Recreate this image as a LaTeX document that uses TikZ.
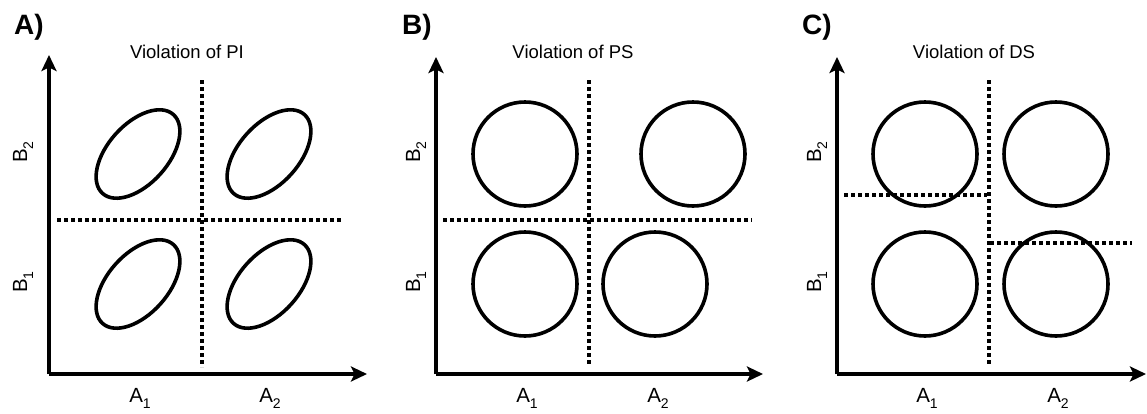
\documentclass[tikz,border=0pt]{standalone}
\usepackage{fontspec}
\setmainfont{Liberation Sans}
\usepackage{tikz}
\usetikzlibrary{arrows.meta,positioning,calc}
\newcommand{\lowsub}[2]{#1\raisebox{-6pt}{\fontsize{14}{14}\selectfont #2}}

\begin{document}
\begin{tikzpicture}[x=1pt,y=-1pt,
  axis/.style={line width=4pt,-{Stealth[length=16pt,width=15pt,inset=3.5pt]}},
  cutline/.style={line width=4pt,dash pattern=on 4pt off 3pt},
  blob/.style={line width=3.6pt},
  paneltag/.style={font=\fontsize{28}{30}\selectfont\bfseries},
  paneltitle/.style={font=\fontsize{18.5}{22}\selectfont},
  lvl/.style={font=\fontsize{20.5}{24}\selectfont,inner sep=0pt}]
\useasboundingbox (0,0) rectangle (1147,413);

% ---- A) violation of PI
\node[paneltag] (tagA) at (29,27) {A)};
\node[paneltitle] (titA) at (187,52) {Violation of PI};
\coordinate (oA) at (49,374);
\coordinate (xA) at (367,374);
\coordinate (yA) at (49,55);
\draw[axis] (oA) -- (xA);
\draw[axis] (oA) -- (yA);
\coordinate (vA1) at (202,80);   \coordinate (vA2) at (202,367);
\coordinate (hA1) at (57,220);   \coordinate (hA2) at (343,220);
\draw[cutline] (vA1) -- (vA2);
\draw[cutline] (hA1) -- (hA2);
\foreach \cx in {138,269}
  \foreach \cy in {154,284}
    \draw[blob,rotate around={48:(\cx,\cy)}] (\cx,\cy) ellipse [x radius=53,y radius=30];
\node[lvl] (a1A) at (140,398) {\lowsub{A}{1}};
\node[lvl] (a2A) at (270,398) {\lowsub{A}{2}};
\node[lvl,rotate=90] (b2A) at (23,152) {\lowsub{B}{2}};
\node[lvl,rotate=90] (b1A) at (23,282) {\lowsub{B}{1}};

% ---- B) violation of PS
\node[paneltag] (tagB) at (417,27) {B)};
\node[paneltitle] (titB) at (573,52) {Violation of PS};
\coordinate (oB) at (436,374);
\coordinate (xB) at (763,374);
\coordinate (yB) at (436,57);
\draw[axis] (oB) -- (xB);
\draw[axis] (oB) -- (yB);
\coordinate (vB1) at (589,80);   \coordinate (vB2) at (589,365);
\coordinate (hB1) at (443,220);  \coordinate (hB2) at (752,220);
\draw[cutline] (vB1) -- (vB2);
\draw[cutline] (hB1) -- (hB2);
\draw[blob] (525,154) circle [radius=52];
\draw[blob] (693,154) circle [radius=52];
\draw[blob] (525,284) circle [radius=52];
\draw[blob] (655,284) circle [radius=52];
\node[lvl] (a1B) at (527,398) {\lowsub{A}{1}};
\node[lvl] (a2B) at (658,398) {\lowsub{A}{2}};
\node[lvl,rotate=90] (b2B) at (416,152) {\lowsub{B}{2}};
\node[lvl,rotate=90] (b1B) at (416,282) {\lowsub{B}{1}};

% ---- C) violation of DS
\node[paneltag] (tagC) at (817,27) {C)};
\node[paneltitle] (titC) at (974,52) {Violation of DS};
\coordinate (oC) at (837,374);
\coordinate (xC) at (1146,374);
\coordinate (yC) at (837,57);
\draw[axis] (oC) -- (xC);
\draw[axis] (oC) -- (yC);
\coordinate (vC1) at (989,80);   \coordinate (vC2) at (989,365);
\coordinate (hC1) at (844,195);  \coordinate (hC2) at (987,195);
\coordinate (hC3) at (990,243);  \coordinate (hC4) at (1132,243);
\draw[cutline] (vC1) -- (vC2);
\draw[cutline] (hC1) -- (hC2);
\draw[cutline] (hC3) -- (hC4);
\foreach \cx in {925,1056}
  \foreach \cy in {154,284}
    \draw[blob] (\cx,\cy) circle [radius=52];
\node[lvl] (a1C) at (927,398) {\lowsub{A}{1}};
\node[lvl] (a2C) at (1058,398) {\lowsub{A}{2}};
\node[lvl,rotate=90] (b2C) at (817,152) {\lowsub{B}{2}};
\node[lvl,rotate=90] (b1C) at (817,282) {\lowsub{B}{1}};
\end{tikzpicture}
\end{document}
